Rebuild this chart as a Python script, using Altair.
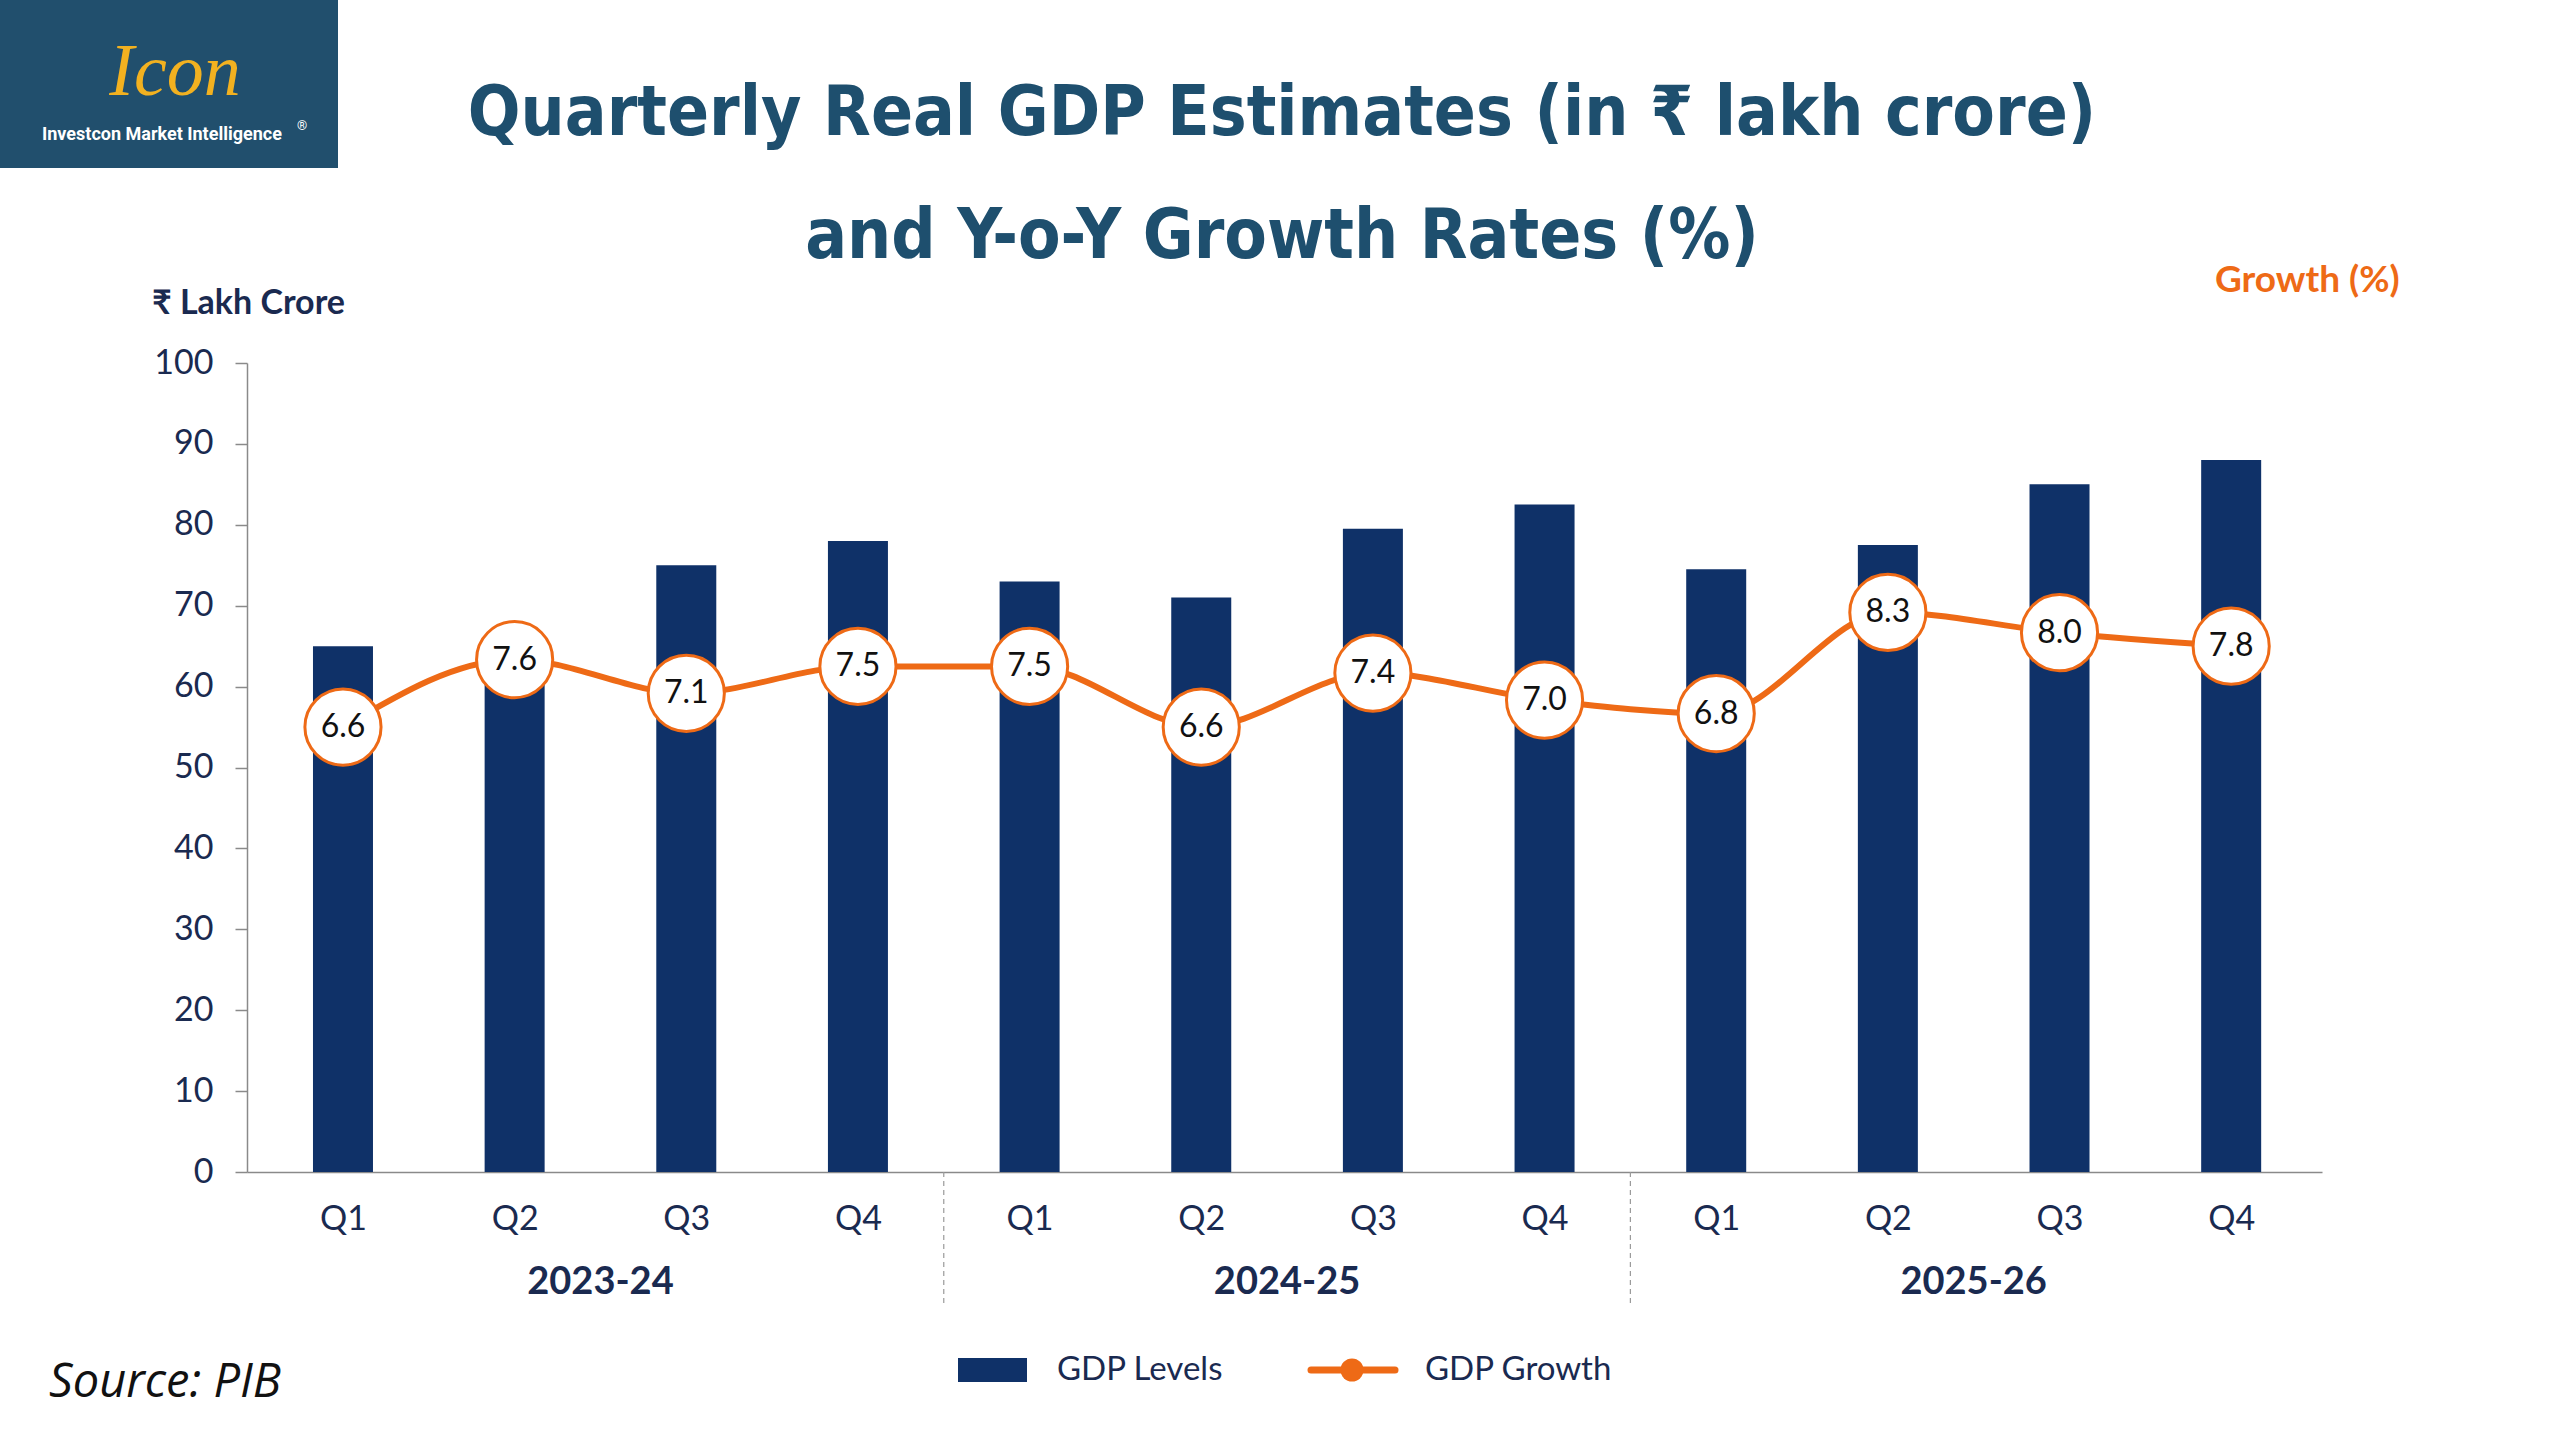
import altair as alt
import pandas as pd

# ---- data -------------------------------------------------------------
years = ["2023-24", "2024-25", "2025-26"]
quarters = ["Q1", "Q2", "Q3", "Q4"]
gdp_levels = [65, 66, 75, 78, 73, 71, 79.5, 82.5, 74.5, 77.5, 85, 88]   # ₹ lakh crore
gdp_growth = [6.6, 7.6, 7.1, 7.5, 7.5, 6.6, 7.4, 7.0, 6.8, 8.3, 8.0, 7.8]  # % y-o-y

title_lines = ["Quarterly Real GDP Estimates (in ₹ lakh crore)", "and Y-o-Y Growth Rates (%)"]
left_axis_title = "₹ Lakh Crore"
right_axis_title = "Growth (%)"
legend_labels = ["GDP Levels", "GDP Growth"]
source_note = "Source: PIB"
brand_name = "Investcon Market Intelligence"
brand_mark = "Icon"

df = pd.DataFrame({
    "idx": list(range(len(gdp_levels))),
    "year": [years[i // 4] for i in range(len(gdp_levels))],
    "quarter": [quarters[i % 4] for i in range(len(gdp_levels))],
    "level": gdp_levels,
    "growth": gdp_growth,
})
df["label"] = [f"{g:.1f}" for g in gdp_growth]

# ---- styling ----------------------------------------------------------
NAVY_BAR = "#0f3168"
NAVY_TEXT = "#1a2a50"
ORANGE = "#ee6a16"
TITLE_BLUE = "#1e4f6e"
LOGO_BG = "#214f6d"
GOLD = "#f2b120"
AXIS_GRAY = "#8a8a8a"
FONT = "Lato"
TITLE_FONT = "DejaVu Sans Condensed"

W, H = 2075, 809
PAD = {"left": 247, "top": 363, "right": 2560 - 247 - W, "bottom": 1440 - 363 - H}

x_scale = alt.Scale(domain=[-0.53, 11.5], nice=False, zero=False)
x_enc = alt.X(
    "idx:Q",
    scale=x_scale,
    axis=alt.Axis(
        values=list(range(12)),
        labelExpr="'Q' + (datum.value % 4 + 1)",
        ticks=False,
        grid=False,
        domainColor=AXIS_GRAY,
        domainWidth=1.5,
        labelFontSize=34,
        labelColor=NAVY_TEXT,
        labelFont=FONT,
        labelPadding=30,
        title=None,
    ),
)

base = alt.Chart(df)

bars = base.mark_bar(width=60, color=NAVY_BAR).encode(
    x=x_enc,
    y=alt.Y(
        "level:Q",
        scale=alt.Scale(domain=[0, 100], nice=False),
        axis=alt.Axis(
            orient="left",
            values=list(range(0, 101, 10)),
            grid=False,
            domainColor=AXIS_GRAY,
            domainWidth=1.5,
            tickColor=AXIS_GRAY,
            tickWidth=1.5,
            tickSize=12,
            labelFontSize=34,
            labelColor=NAVY_TEXT,
            labelFont=FONT,
            labelPadding=22,
            title=None,
        ),
    ),
)

growth_y = alt.Y(
    "growth:Q",
    scale=alt.Scale(domain=[0, 12], nice=False),
    axis=alt.Axis(
        orient="right",
        values=list(range(0, 13)),
        grid=False,
        domainColor=AXIS_GRAY,
        domainWidth=1.5,
        tickColor=AXIS_GRAY,
        tickWidth=1.5,
        tickSize=12,
        labelFontSize=35,
        labelColor=ORANGE,
        labelFont=FONT,
        labelPadding=28,
        title=None,
    ),
)

line = base.mark_line(color=ORANGE, strokeWidth=6, interpolate="monotone").encode(
    x=alt.X("idx:Q", scale=x_scale), y=growth_y
)
dots = base.mark_point(
    shape="circle", filled=True, fill="white", stroke=ORANGE, strokeWidth=3,
    size=5800, opacity=1,
).encode(x=alt.X("idx:Q", scale=x_scale), y=alt.Y("growth:Q", axis=None))
dot_labels = base.mark_text(
    font=FONT, fontSize=32, color="#111111", baseline="middle", align="center"
).encode(x=alt.X("idx:Q", scale=x_scale), y=alt.Y("growth:Q", axis=None), text="label:N")

growth_layer = alt.layer(line, dots, dot_labels)

# fiscal-year labels under the quarter labels, centred on each year's quarters
year_labels = base.transform_aggregate(
    center="mean(idx)", groupby=["year"]
).mark_text(
    font=FONT, fontSize=38, fontWeight="bold", color=NAVY_TEXT, baseline="middle"
).encode(
    x=alt.X("center:Q", scale=x_scale), y=alt.value(H + 111), text="year:N"
)

# dashed separators between fiscal years
separators = base.transform_filter(
    (alt.datum.quarter == "Q4") & (alt.datum.idx < len(gdp_levels) - 1)
).transform_calculate(
    sep="datum.idx + 0.5"
).mark_rule(color="#9a9a9a", strokeWidth=1.2, strokeDash=[5, 4]).encode(
    x=alt.X("sep:Q", scale=x_scale), y=alt.value(H), y2=alt.value(H + 134)
)


def label(text, x, y, size, color, weight="normal", align="left", font=FONT, style="normal"):
    return alt.Chart(pd.DataFrame({"t": [text]})).mark_text(
        font=font, fontSize=size, fontWeight=weight, color=color, align=align,
        baseline="middle", fontStyle=style,
    ).encode(x=alt.value(x), y=alt.value(y), text="t:N")


# header, axis titles, brand block
title_1 = label(title_lines[0], 1035, -249, 69, TITLE_BLUE, "bold", "center", TITLE_FONT)
title_2 = label(title_lines[1], 1035, -126, 69, TITLE_BLUE, "bold", "center", TITLE_FONT)
left_title = label(left_axis_title, -95, -59, 34, NAVY_TEXT, "bold")
right_title = label(right_axis_title, 1968, -82, 37, ORANGE, "bold")

logo_box = alt.Chart(pd.DataFrame({"a": [0]})).mark_rect(color=LOGO_BG).encode(
    x=alt.value(-247), x2=alt.value(91), y=alt.value(-363), y2=alt.value(-195)
)
logo_mark = label(brand_mark, -72, -290, 74, GOLD, "normal", "center", "Liberation Serif", "italic")
logo_name = label(brand_name, -205, -228, 18, "white", "bold", "left", "Roboto")
logo_reg = label("®", 50, -237, 13, "white", "normal", "left", "Roboto")

# legend
legend_df = pd.DataFrame({"a": [0]})
leg_bar = alt.Chart(legend_df).mark_rect(color=NAVY_BAR).encode(
    x=alt.value(711), x2=alt.value(780), y=alt.value(995), y2=alt.value(1019)
)
leg_bar_text = label(legend_labels[0], 810, 1007, 33, NAVY_TEXT)
leg_line = alt.Chart(legend_df).mark_rule(color=ORANGE, strokeWidth=7, strokeCap="round").encode(
    x=alt.value(1064), x2=alt.value(1148), y=alt.value(1007)
)
leg_dot = alt.Chart(legend_df).mark_point(
    shape="circle", filled=True, color=ORANGE, size=530, opacity=1
).encode(x=alt.value(1105), y=alt.value(1007))
leg_line_text = label(legend_labels[1], 1178, 1007, 33, NAVY_TEXT)

source = label(source_note, -198, 1020, 47, "#111111", "normal", "left", "Open Sans", "italic")

chart = alt.layer(
    bars, growth_layer,
    separators, year_labels,
    title_1, title_2, left_title, right_title,
    logo_box, logo_mark, logo_name, logo_reg,
    leg_bar, leg_bar_text, leg_line, leg_dot, leg_line_text,
    source,
).resolve_scale(
    y="independent"
).properties(
    width=W, height=H,
    autosize=alt.AutoSizeParams(type="none"),
    padding=PAD,
    background="white",
).configure_view(stroke=None)

chart.save("out.html", embed_options={"renderer": "svg", "actions": False})
